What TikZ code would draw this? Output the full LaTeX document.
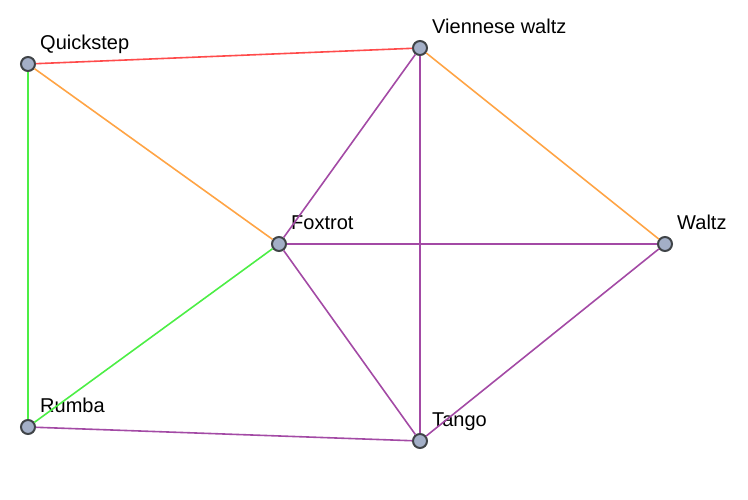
\documentclass[tikz,border=0pt]{standalone}
\usepackage{fontspec}
\setmainfont{Liberation Sans}
\definecolor{dotfill}{HTML}{A3AFC7}
\definecolor{dotline}{HTML}{404448}
\definecolor{redline}{HTML}{FF4B4B}
\definecolor{orangeline}{HTML}{FFA445}
\definecolor{greenline}{HTML}{4CEE45}
\definecolor{purpleline}{HTML}{A34AA5}

\begin{document}
\begin{tikzpicture}[
x=0.75pt,y=-0.75pt,
dance/.style={circle,draw=dotline,fill=dotfill,line width=1.5pt,minimum size=10.5pt,inner sep=0pt},
lbl/.style={anchor=base west,xshift=1.4pt,yshift=6.5pt,font=\fontsize{15}{17}\selectfont},
edge/.style={line width=1.2pt}
]
\useasboundingbox (0,0) rectangle (748,499);

\node[dance,label={[lbl]45:Quickstep}] (quick) at (28,64) {};
\node[dance,label={[lbl]45:Viennese waltz}] (vienna) at (420,48) {};
\node[dance,label={[lbl]45:Foxtrot}] (fox) at (279,244) {};
\node[dance,label={[lbl]45:Waltz}] (waltz) at (665,244) {};
\node[dance,label={[lbl]45:Rumba}] (rumba) at (28,427) {};
\node[dance,label={[lbl]45:Tango}] (tango) at (420,441) {};

\draw[edge,redline] (quick) -- (vienna);
\draw[edge,orangeline] (quick) -- (fox);
\draw[edge,orangeline] (vienna) -- (waltz);
\draw[edge,greenline] (quick) -- (rumba);
\draw[edge,greenline] (fox) -- (rumba);
\draw[edge,purpleline] (vienna) -- (fox);
\draw[edge,purpleline] (vienna) -- (tango);
\draw[edge,purpleline] (fox) -- (waltz);
\draw[edge,purpleline] (fox) -- (tango);
\draw[edge,purpleline] (rumba) -- (tango);
\draw[edge,purpleline] (waltz) -- (tango);

\end{tikzpicture}
\end{document}
